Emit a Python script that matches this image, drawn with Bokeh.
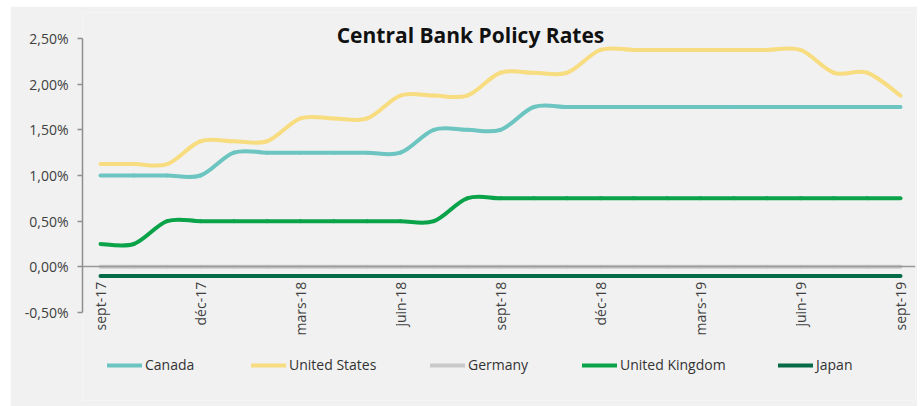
import math
from bokeh.plotting import figure
from bokeh.models import (ColumnDataSource, Range1d, FixedTicker, Legend, LegendItem, Label)
from bokeh.embed import file_html
from bokeh.resources import INLINE

# ---------------- data ----------------
months = ["sept-17", "oct-17", "nov-17", "déc-17", "janv-18", "févr-18", "mars-18",
          "avr-18", "mai-18", "juin-18", "juil-18", "août-18", "sept-18", "oct-18",
          "nov-18", "déc-18", "janv-19", "févr-19", "mars-19", "avr-19", "mai-19",
          "juin-19", "juil-19", "août-19", "sept-19"]

canada = [1.00, 1.00, 1.00, 1.00, 1.25, 1.25, 1.25, 1.25, 1.25, 1.25, 1.50, 1.50, 1.50,
          1.75, 1.75, 1.75, 1.75, 1.75, 1.75, 1.75, 1.75, 1.75, 1.75, 1.75, 1.75]
united_states = [1.125, 1.125, 1.125, 1.375, 1.375, 1.375, 1.625, 1.625, 1.625, 1.875,
                 1.875, 1.875, 2.125, 2.125, 2.125, 2.375, 2.375, 2.375, 2.375, 2.375,
                 2.375, 2.375, 2.125, 2.125, 1.875]
germany = [0.00] * 25
united_kingdom = [0.25, 0.25, 0.50, 0.50, 0.50, 0.50, 0.50, 0.50, 0.50, 0.50, 0.50, 0.75,
                  0.75, 0.75, 0.75, 0.75, 0.75, 0.75, 0.75, 0.75, 0.75, 0.75, 0.75, 0.75, 0.75]
japan = [-0.10] * 25

y_ticks = [-0.5, 0.0, 0.5, 1.0, 1.5, 2.0, 2.5]
y_labels = ["-0,50%", "0,00%", "0,50%", "1,00%", "1,50%", "2,00%", "2,50%"]
x_tick_step = 3

series_names = ["Canada", "United States", "Germany", "United Kingdom", "Japan"]
series_values = [canada, united_states, germany, united_kingdom, japan]
series_colors = ["#6cc5c1", "#f7dc80", "#c9c9c9", "#0aa34a", "#066b47"]

FONT = "Open Sans"
BG = "#f1f1f1"


def smooth_segments(vals):
    """Catmull-Rom style Bezier segments (like Excel's smoothed line)."""
    n = len(vals)
    xs = list(range(n))
    d = dict(x0=[], y0=[], x1=[], y1=[], cx0=[], cy0=[], cx1=[], cy1=[])
    for i in range(n - 1):
        im1 = max(i - 1, 0)
        ip2 = min(i + 2, n - 1)
        d["x0"].append(xs[i]); d["y0"].append(vals[i])
        d["x1"].append(xs[i + 1]); d["y1"].append(vals[i + 1])
        d["cx0"].append(xs[i] + (xs[i + 1] - xs[im1]) / 6)
        d["cy0"].append(vals[i] + (vals[i + 1] - vals[im1]) / 6)
        d["cx1"].append(xs[i + 1] - (xs[ip2] - xs[i]) / 6)
        d["cy1"].append(vals[i + 1] - (vals[ip2] - vals[i]) / 6)
    return ColumnDataSource(d)


# the frame extends beyond the value axis so that title, tick labels and legend fit inside it
p = figure(width=907, height=400, output_backend="svg", toolbar_location=None,
           x_range=Range1d(-0.54, 24.45), y_range=Range1d(-1.4635, 2.7847),
           min_border_left=72, min_border_right=2, min_border_top=6, min_border_bottom=6)
p.margin = (6, 0, 0, 10)
p.background_fill_color = BG
p.border_fill_color = BG
p.outline_line_color = None
p.grid.visible = False

renderers = []
for name, vals, col in zip(series_names, series_values, series_colors):
    r = p.bezier(x0="x0", y0="y0", x1="x1", y1="y1", cx0="cx0", cy0="cy0",
                 cx1="cx1", cy1="cy1", source=smooth_segments(vals),
                 line_color=col, line_width=4, line_cap="round")
    renderers.append(r)

# y axis
yax = p.yaxis[0]
yax.ticker = FixedTicker(ticks=y_ticks)
yax.bounds = (y_ticks[0], y_ticks[-1])
yax.major_label_overrides = {t: l for t, l in zip(y_ticks, y_labels)}
yax.axis_line_color = "#8f8f8f"
yax.axis_line_width = 1.5
yax.major_tick_line_color = "#8f8f8f"
yax.major_tick_line_width = 1.5
yax.major_tick_in = 0
yax.major_tick_out = 5
yax.minor_tick_line_color = None
yax.major_label_standoff = 9
yax.major_label_text_font = FONT
yax.major_label_text_font_size = "14px"
yax.major_label_text_color = "#404040"

# x axis at y = 0
xax = p.xaxis[0]
xax.fixed_location = 0
x_ticks = list(range(0, len(months), x_tick_step))
xax.ticker = FixedTicker(ticks=x_ticks)
xax.major_label_overrides = {i: months[i] for i in x_ticks}
xax.major_label_orientation = math.pi / 2
xax.axis_line_color = "#999999"
xax.axis_line_width = 1.5
xax.major_tick_line_color = None
xax.minor_tick_line_color = None
xax.major_label_standoff = 9
xax.major_label_text_font = FONT
xax.major_label_text_font_size = "14px"
xax.major_label_text_color = "#404040"

# title
title = Label(x=388, y=366, x_units="screen", y_units="screen",
              text="Central Bank Policy Rates", text_align="center",
              text_baseline="middle", text_font=FONT, text_font_size="21px",
              text_font_style="bold", text_color="#111111", level="overlay")
p.add_layout(title)

# legend items, one legend per entry for exact placement
legend_x = [25, 169, 348, 500, 696]
for name, r, lx in zip(series_names, renderers, legend_x):
    lg = Legend(items=[LegendItem(label=name, renderers=[r])], location=(lx, 26),
                orientation="horizontal", glyph_width=35, glyph_height=16,
                label_standoff=3, padding=0, margin=0, border_line_color=None,
                background_fill_alpha=0, label_text_font=FONT,
                label_text_font_size="14px", label_text_color="#333333",
                label_height=16)
    p.add_layout(lg, "center")

open("out.html", "w").write(file_html(p, INLINE))
